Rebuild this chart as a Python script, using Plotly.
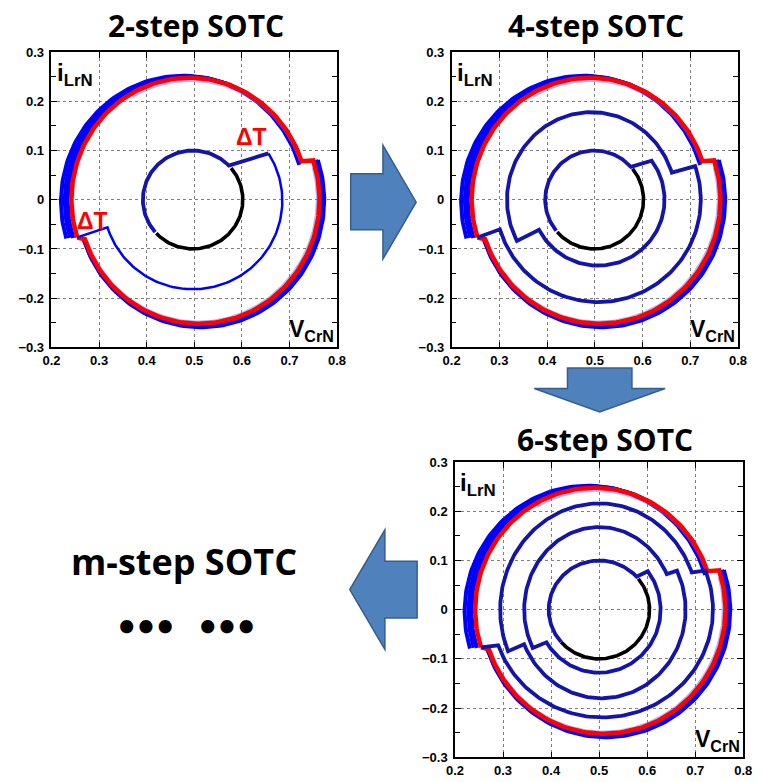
import numpy as np
import plotly.graph_objects as go

W, H = 762, 782

# ---- axis ticks ----
X_TICKS = [0.2, 0.3, 0.4, 0.5, 0.6, 0.7, 0.8]
X_TICK_TEXT = ["0.2", "0.3", "0.4", "0.5", "0.6", "0.7", "0.8"]
Y_TICKS = [-0.3, -0.2, -0.1, 0.0, 0.1, 0.2, 0.3]
Y_TICK_TEXT = ["\u22120.3", "\u22120.2", "\u22120.1", "0", "0.1", "0.2", "0.3"]

PANEL_TITLES = ["2-step SOTC", "4-step SOTC", "6-step SOTC"]

# ---- state-plane arcs ----
# each arc: (centre V, centre i, radius along V, radius along i, start deg, end deg), run clockwise
# steady-state orbit after the load step
ORBIT_ARCS = [
    (0.490, 0.000, 0.248, 0.248, 198.0, 18.4),
    (0.510, 0.000, 0.253, 0.252, 18.5, -161.4),
]
# transient cycles converging onto the orbit
TRANSIENT_ARCS = [
    (0.476, -0.004, 0.256, 0.256, 197.0, 17.0),
    (0.481, -0.003, 0.253, 0.254, 197.0, 17.5),
    (0.485, -0.002, 0.251, 0.252, 197.5, 18.0),
    (0.514, -0.001, 0.259, 0.258, 18.5, -163.0),
    (0.512, 0.000, 0.257, 0.256, 18.5, -162.0),
]
HALO_ARCS = [
    (0.492, -0.002, 0.244, 0.244, 120.0, 20.0),
    (0.509, 0.001, 0.249, 0.249, 15.0, -160.0),
]

# 2-step
STEP2_BLACK = [(0.497, 0.000, 0.105, 0.100, 40.0, -137.0)]
STEP2_NAVY = [(0.497, 0.000, 0.105, 0.100, 221.0, 44.0)]
STEP2_BLUE = [(0.497, -0.002, 0.188, 0.180, 32.3, -162.5)]
DT_LABELS = [(0.621, 0.128), (0.287, -0.043)]

# 4-step
STEP4_BLACK = [(0.499, 0.000, 0.103, 0.100, 39.0, -139.0)]
STEP4_NAVY = [
    (0.499, 0.000, 0.103, 0.100, 219.0, 42.0),
    (0.507, 0.000, 0.139, 0.134, 36.3, -152.9),
    (0.493, 0.000, 0.177, 0.178, 208.0, 18.0),
    (0.507, 0.000, 0.215, 0.208, 19.2, -163.2),
]

# 6-step
STEP6_BLACK = [(0.500, 0.000, 0.105, 0.100, 39.0, -139.0)]
STEP6_NAVY = [
    (0.500, 0.000, 0.105, 0.100, 221.0, 42.0),
    (0.500, 0.000, 0.128, 0.128, 37.7, -148.8),
    (0.500, 0.000, 0.156, 0.168, 207.6, 25.5),
    (0.505, 0.000, 0.175, 0.180, 26.1, -157.0),
    (0.500, 0.000, 0.206, 0.216, 203.0, 20.6),
    (0.507, 0.000, 0.230, 0.219, 21.3, -160.7),
]

RED = "#ff0000"
BLUE = "#0000ff"
NAVY = "#1414a8"
HALO = "rgba(110,110,255,0.5)"
ARROW_FILL = "#4f81bd"
ARROW_EDGE = "#385d8a"
SANS = "Liberation Sans, Arial"
TITLE_FAMILY = "Open Sans"
TICK_FONT = dict(family=SANS, size=13, color="black")


def arc_xy(cx, cy, rx, ry, a0, a1):
    n = max(int(abs(a1 - a0) / 1.5), 2)
    t = np.radians(np.linspace(a0, a1, n))
    return list(cx + rx * np.cos(t)), list(cy + ry * np.sin(t))


def start_of(a):
    cx, cy, rx, ry, a0, _ = a
    t = np.radians(a0)
    return cx + rx * np.cos(t), cy + ry * np.sin(t)


def path_xy(arcs, then=None):
    xs, ys = [], []
    for a in arcs:
        x, y = arc_xy(*a)
        xs += x
        ys += y
    if then is not None:
        sx, sy = start_of(then)
        xs.append(sx)
        ys.append(sy)
    return xs, ys


def separate_xy(arcs):
    xs, ys = [], []
    for a in arcs:
        x, y = arc_xy(*a)
        xs += x + [None]
        ys += y + [None]
    return xs, ys


fig = go.Figure()


def add_line(xs, ys, color, width, k):
    fig.add_trace(go.Scatter(
        x=xs, y=ys, mode="lines", line=dict(color=color, width=width),
        xaxis="x" if k == 1 else f"x{k}", yaxis="y" if k == 1 else f"y{k}",
        showlegend=False, hoverinfo="skip",
    ))


def add_orbit(k):
    add_line(*separate_xy(TRANSIENT_ARCS), BLUE, 4, k)
    add_line(*separate_xy(HALO_ARCS), HALO, 2.5, k)
    ox, oy = path_xy(ORBIT_ARCS, then=ORBIT_ARCS[0])
    add_line(ox, oy, RED, 4.5, k)


# panel 1 : 2-step
add_orbit(1)
add_line(*path_xy(STEP2_BLUE, then=ORBIT_ARCS[0]), BLUE, 2.5, 1)
add_line(*path_xy(STEP2_NAVY, then=STEP2_BLUE[0]), NAVY, 3.8, 1)
add_line(*path_xy(STEP2_BLACK), "black", 3.6, 1)

# panel 2 : 4-step
add_orbit(2)
add_line(*path_xy(STEP4_NAVY, then=ORBIT_ARCS[0]), NAVY, 3.8, 2)
add_line(*path_xy(STEP4_BLACK), "black", 3.6, 2)

# panel 3 : 6-step
add_orbit(3)
add_line(*path_xy(STEP6_NAVY, then=ORBIT_ARCS[0]), NAVY, 3.8, 3)
add_line(*path_xy(STEP6_BLACK), "black", 3.6, 3)


def px(x):
    return x / W


def py(y):
    return 1 - y / H


# plot frames in pixels: left, right, top, bottom
FRAMES = [(43.5, 336.0, 46.0, 347.0), (453.3, 746.7, 46.0, 347.0), (456.8, 752.0, 464.0, 765.0)]

axis_common = dict(
    showline=True, linecolor="black", linewidth=1.5, mirror="ticks",
    ticks="inside", ticklen=6, tickwidth=1, tickcolor="black",
    showgrid=True, gridcolor="#808080", griddash="dot", gridwidth=1,
    zeroline=False, tickfont=TICK_FONT, fixedrange=True,
)

layout = dict(
    width=W, height=H, margin=dict(l=0, r=0, t=0, b=0),
    paper_bgcolor="white", plot_bgcolor="white", showlegend=False,
)
for k, (l, r, t, b) in enumerate(FRAMES, start=1):
    xn = "xaxis" if k == 1 else f"xaxis{k}"
    yn = "yaxis" if k == 1 else f"yaxis{k}"
    layout[xn] = dict(
        domain=[px(l), px(r)], range=[0.2, 0.8], anchor="y" if k == 1 else f"y{k}",
        tickmode="array", tickvals=X_TICKS, ticktext=[f"<b>{s}</b>" for s in X_TICK_TEXT],
        ticklabelstandoff=0, **axis_common,
    )
    layout[yn] = dict(
        domain=[py(b), py(t)], range=[-0.3, 0.3], anchor="x" if k == 1 else f"x{k}",
        tickmode="array", tickvals=Y_TICKS, ticktext=[f"<b>{s}</b>" for s in Y_TICK_TEXT],
        ticklabelstandoff=3,
        minor=dict(dtick=0.05, tick0=0, ticks="inside", ticklen=5, tickcolor="black", showgrid=False),
        **axis_common,
    )
fig.update_layout(**layout)

for k in range(1, 4):
    xr = "x domain" if k == 1 else f"x{k} domain"
    yr = "y domain" if k == 1 else f"y{k} domain"
    fig.add_annotation(
        x=0.012, y=0.985, xref=xr, yref=yr, xanchor="left", yanchor="top", showarrow=False,
        text="<b>i<sub>LrN</sub></b>", font=dict(family=SANS, size=24, color="black"),
    )
    fig.add_annotation(
        x=0.995, y=0.0, xref=xr, yref=yr, xanchor="right", yanchor="bottom", showarrow=False,
        text="<b>V<sub>CrN</sub></b>", font=dict(family=SANS, size=23, color="black"),
    )

for (dx, dy) in DT_LABELS:
    fig.add_annotation(
        x=dx, y=dy, xref="x", yref="y", showarrow=False, text="<b>\u0394T</b>",
        font=dict(family=SANS, size=23, color=RED),
    )

TITLE_FONT = dict(family=TITLE_FAMILY, size=30, color="black")
for (cx, cy), title in zip([(191.5, 19), (601, 19), (610, 441)], PANEL_TITLES):
    fig.add_annotation(x=px(cx), y=py(cy), xref="paper", yref="paper", showarrow=False,
                       xanchor="center", yanchor="middle",
                       text=f"<b>{title}</b>", font=TITLE_FONT)

fig.add_annotation(x=px(179.5), y=py(565), xref="paper", yref="paper", showarrow=False,
                   xanchor="center", yanchor="middle",
                   text="<b>m-step SOTC</b>", font=dict(family=TITLE_FAMILY, size=36, color="black"))
fig.add_annotation(x=px(182), y=py(629), xref="paper", yref="paper", showarrow=False,
                   xanchor="center", yanchor="middle",
                   text="<b>\u2022\u200a\u2022\u200a\u2022\u2002\u2004\u2022\u200a\u2022\u200a\u2022</b>",
                   font=dict(family="Lato", size=30, color="black"))

# block arrows between the panels (pixel outlines)
ARROWS = [
    [(350, 170), (383, 170), (383, 141), (417, 199), (383, 257), (383, 227), (350, 227)],
    [(572, 368), (638, 368), (638, 389), (672, 389), (605, 413), (538, 389), (572, 389)],
    [(418, 565), (385, 565), (385, 533), (349, 594), (385, 655), (385, 623), (418, 623)],
]
for pts in ARROWS:
    d = "M " + " L ".join(f"{px(a):.5f},{py(b):.5f}" for a, b in pts) + " Z"
    fig.add_shape(type="path", path=d, xref="paper", yref="paper",
                  fillcolor=ARROW_FILL, line=dict(color=ARROW_EDGE, width=1.5), layer="above")

fig.write_html("out.html")
